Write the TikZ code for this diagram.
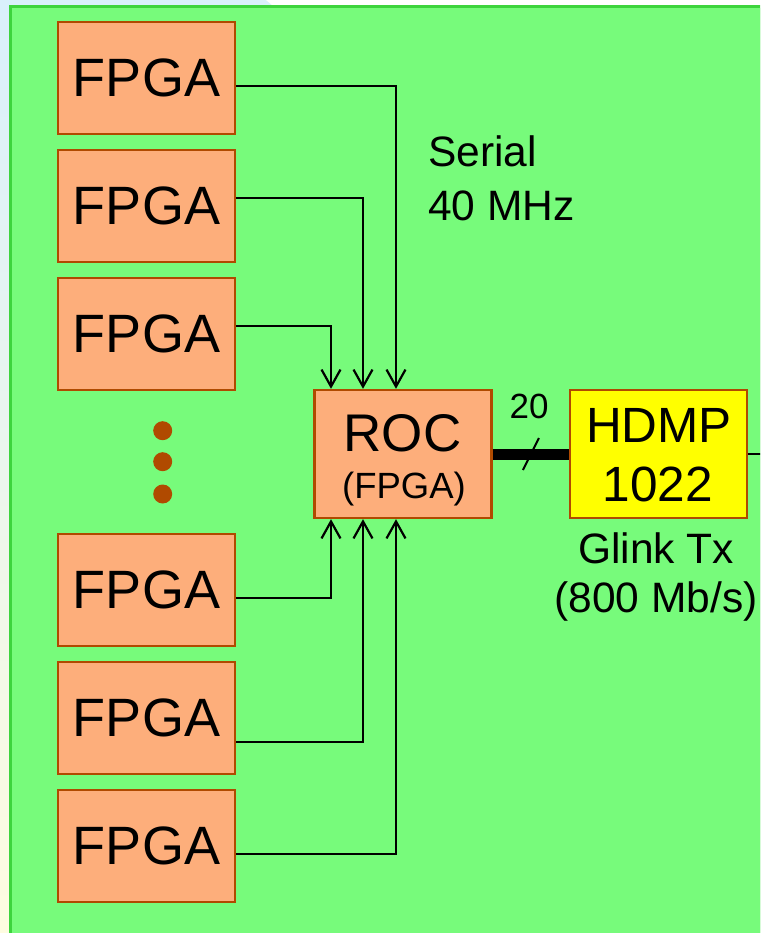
\documentclass[tikz,border=0pt]{standalone}
\usepackage{fontspec}
\setmainfont{Liberation Sans}
\usetikzlibrary{arrows.meta,calc}
\definecolor{gfill}{HTML}{77FB7B}
\definecolor{gbord}{HTML}{3DD43D}
\definecolor{orfill}{HTML}{FDAE7B}
\definecolor{bord}{HTML}{B04A00}
\definecolor{ltblue}{HTML}{D9F0FB}
\definecolor{ltyel}{HTML}{FEFCE0}
\definecolor{hyel}{HTML}{FFFF00}
\begin{document}
\begin{tikzpicture}[x=1pt,y=-1pt,
  box/.style={draw=bord, line width=2.4pt, rectangle, inner sep=0pt, minimum width=177pt},
  fpgabox/.style={box, fill=orfill, minimum height=112pt, font=\fontsize{54}{54}\selectfont},
  conn/.style={line width=2.2pt, -{Straight Barb[length=17pt,width=19pt]}},
  lbl/.style={inner sep=0pt, anchor=base},
  dot/.style={circle, fill=bord, inner sep=0pt, minimum size=19pt}
]
\useasboundingbox (0,0) rectangle (760,933);
\clip (0,0) rectangle (760,933);
% background
\shade[top color=ltblue, bottom color=ltyel] (0,0) rectangle (12,933);
\fill[ltblue] (0,0) rectangle (272,8);
\fill[white] (266,0) -- (760,0) -- (760,5) -- (272,5) -- cycle;
\fill[gbord] (9,5) rectangle (780,950);
\fill[gfill] (12,8) rectangle (780,950);

% FPGA boxes
\node[fpgabox] (f1) at (146.5,78) {FPGA};
\node[fpgabox] (f2) at (146.5,206) {FPGA};
\node[fpgabox] (f3) at (146.5,334) {FPGA};
\node[fpgabox] (f4) at (146.5,590) {FPGA};
\node[fpgabox] (f5) at (146.5,718) {FPGA};
\node[fpgabox] (f6) at (146.5,846) {FPGA};

% dots
\node[dot] (d1) at (162.7,430.7) {};
\node[dot] (d2) at (162.7,461.7) {};
\node[dot] (d3) at (162.7,494) {};

% ROC
\node[box, fill=orfill, minimum height=128pt] (roc) at (403,454) {};
\node[lbl, font=\fontsize{53}{53}\selectfont] (roct) at (402.5,451.7) {ROC};
\node[lbl, font=\fontsize{36.5}{36.5}\selectfont] (rocs) at (404,498) {(FPGA)};

% HDMP
\node[box, fill=hyel, minimum width=176.5pt, minimum height=128pt] (hdmp) at (658.5,454) {};
\node[lbl, font=\fontsize{49.5}{49.5}\selectfont] (ht1) at (659,442.7) {HDMP};
\node[lbl, font=\fontsize{49.5}{49.5}\selectfont] (ht2) at (658,501.7) {1022};

% connectors into ROC
\draw[conn] ([yshift=-8pt]f1.east) -| ([xshift=-7pt]roc.north);
\draw[conn] ([yshift=8pt]f2.east) -| ([xshift=-40pt]roc.north);
\draw[conn] ([yshift=8pt]f3.east) -| ([xshift=-72pt]roc.north);
\draw[conn] ([yshift=-8pt]f4.east) -| ([xshift=-72pt]roc.south);
\draw[conn] ([yshift=-24pt]f5.east) -| ([xshift=-40pt]roc.south);
\draw[conn] ([yshift=-8pt]f6.east) -| ([xshift=-7pt]roc.south);

% bus
\draw[line width=11pt] (roc.east) -- (hdmp.west);
\coordinate (bm) at ($(roc.east)!0.5!(hdmp.west)$);
\draw[line width=2pt] ([shift={(-8pt,-16pt)}]bm) -- ([shift={(8pt,16pt)}]bm);
\node[lbl, font=\fontsize{35}{35}\selectfont] (w20) at (529,418.3) {20};

% output
\coordinate (out) at (775,454);
\draw[line width=2.2pt] (hdmp.east) -- (out);

% labels
\node[lbl, anchor=base west, align=left, font=\fontsize{42.5}{54}\selectfont] (ser) at (428,220.7) {Serial\\40 MHz};
\node[lbl, align=center, font=\fontsize{42.5}{49}\selectfont] (glk) at (656,612) {Glink Tx\\(800 Mb/s)};
\end{tikzpicture}
\end{document}
